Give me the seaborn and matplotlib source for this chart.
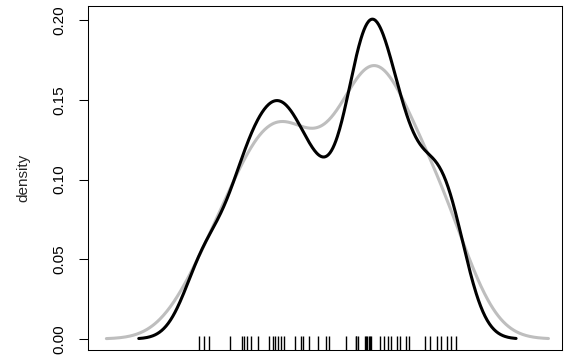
import numpy as np
import matplotlib
matplotlib.use("Agg")
import matplotlib.pyplot as plt
import seaborn as sns

# observations shown in the rug (repeated values appear as darker ticks)
values = [3.09, 3.23, 3.37, 3.96, 4.27, 4.34, 4.42, 4.52, 4.72, 5.02,
          5.14, 5.21, 5.29, 5.37, 5.46, 5.74, 5.91, 5.99, 6.13, 6.40,
          6.62, 6.70, 7.17, 7.46, 7.46, 7.51, 7.69, 7.72, 7.75, 7.81,
          7.84, 7.86, 8.11, 8.23, 8.34, 8.42, 8.58, 8.67, 8.85, 8.92,
          9.36, 9.50, 9.69, 9.82, 9.97, 10.10, 10.22]

# kernel bandwidths (standard deviation of the Gaussian kernel)
bw_narrow = 0.56
bw_wide = 0.86

yticks = [0.00, 0.05, 0.10, 0.15, 0.20]
ytick_labels = ["0.00", "0.05", "0.10", "0.15", "0.20"]

sns.set_style("white")
plt.rcParams["font.family"] = ["Liberation Sans", "DejaVu Sans"]

x = np.asarray(values)
sd = np.std(x, ddof=1)

fig = plt.figure(figsize=(5.68, 3.56), dpi=100)
ax = fig.add_axes([0.155, 0.017, 0.834, 0.966])

sns.kdeplot(x=x, bw_method=bw_wide / sd, cut=3, gridsize=512,
            color="#bebebe", lw=2.2, ax=ax)
sns.kdeplot(x=x, bw_method=bw_narrow / sd, cut=3, gridsize=512,
            color="black", lw=2.2, ax=ax)
sns.rugplot(x=x, height=0.042, color="black", lw=0.75,
            expand_margins=False, ax=ax)

ax.set_xlim(0.0, 13.17)
ax.set_ylim(-0.0069, 0.2088)
ax.set_xticks([])
ax.set_yticks(yticks)
ax.set_yticklabels(ytick_labels, rotation=90, va="center", fontsize=11)
ax.tick_params(axis="y", length=6.5, width=0.75, pad=9, left=True,
               color="black", labelcolor="black")
ax.set_xlabel("")
ax.set_ylabel("density", fontsize=11, labelpad=16)
for s in ax.spines.values():
    s.set_visible(True)
    s.set_color("black")
    s.set_linewidth(0.75)

fig.savefig("out.png", dpi=100)
